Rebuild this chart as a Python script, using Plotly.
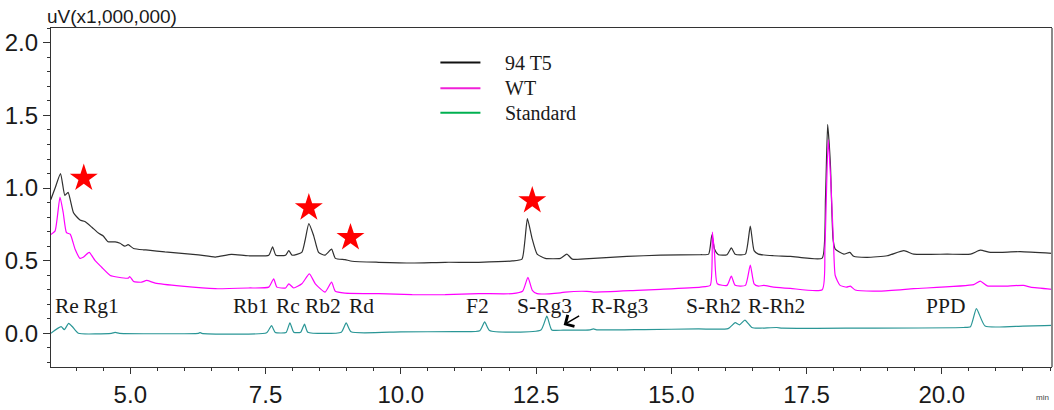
import plotly.graph_objects as go

# ---------------- data (retention time in min, signal in uV x 1,000,000) ----------------
t5_time = [3.53, 3.61, 3.71, 3.79, 3.85, 3.95, 4.07, 4.16, 4.29, 4.41, 4.50, 4.59, 4.72, 4.81, 4.90, 4.96,
           5.06, 5.24, 5.33, 5.64, 6.26, 6.57, 6.87, 7.18, 7.56, 7.63, 7.69, 7.87, 7.93, 7.99, 8.17, 8.23,
           8.30, 8.39, 8.48, 8.60, 8.72, 8.79, 8.97, 9.10, 9.59, 10.21, 10.82, 11.44, 12.06, 12.24, 12.29,
           12.34, 12.43, 12.52, 12.67, 12.95, 13.07, 13.17, 13.56, 14.18, 14.80, 15.54, 15.69, 15.75, 15.80,
           15.87, 16.03, 16.11, 16.18, 16.37, 16.46, 16.53, 16.61, 16.89, 17.20, 17.51, 17.79, 17.85, 17.89,
           17.94, 17.99, 18.03, 18.19, 18.30, 18.37, 18.62, 18.99, 19.30, 19.48, 20.10, 20.53, 20.71, 20.90,
           21.45, 22.04]
t5_signal = [0.92, 1.00, 1.10, 0.95, 0.97, 0.83, 0.78, 0.77, 0.73, 0.69, 0.67, 0.63, 0.63, 0.62, 0.60, 0.61,
             0.584, 0.575, 0.573, 0.56, 0.54, 0.525, 0.543, 0.534, 0.538, 0.596, 0.538, 0.538, 0.569, 0.538,
             0.557, 0.639, 0.755, 0.671, 0.557, 0.538, 0.579, 0.516, 0.507, 0.496, 0.489, 0.484, 0.489, 0.489,
             0.498, 0.511, 0.625, 0.789, 0.648, 0.545, 0.516, 0.516, 0.545, 0.511, 0.516, 0.529, 0.538, 0.541,
             0.545, 0.678, 0.579, 0.541, 0.541, 0.588, 0.545, 0.545, 0.738, 0.569, 0.545, 0.534, 0.530, 0.518,
             0.518, 0.932, 1.438, 1.170, 0.648, 0.579, 0.545, 0.557, 0.530, 0.523, 0.534, 0.569, 0.545, 0.545,
             0.545, 0.572, 0.557, 0.562, 0.550]

wt_time = [3.53, 3.61, 3.70, 3.76, 3.82, 3.89, 3.98, 4.07, 4.13, 4.24, 4.35, 4.47, 4.63, 4.78, 4.96, 4.99,
           5.06, 5.21, 5.30, 5.46, 5.95, 6.57, 7.18, 7.56, 7.65, 7.71, 7.87, 7.93, 8.02, 8.17, 8.31, 8.42,
           8.60, 8.72, 8.79, 8.97, 9.59, 10.21, 10.82, 11.44, 12.06, 12.25, 12.35, 12.43, 12.52, 12.95, 13.04,
           13.44, 13.56, 14.37, 14.80, 15.54, 15.72, 15.76, 15.80, 15.85, 16.03, 16.11, 16.18, 16.37, 16.46,
           16.53, 16.61, 16.71, 16.89, 17.20, 17.79, 17.84, 17.90, 17.95, 18.00, 18.03, 18.12, 18.24, 18.31,
           18.40, 18.86, 19.48, 20.59, 20.71, 20.84, 21.14, 21.51, 21.64, 22.04]
wt_signal = [0.68, 0.705, 0.937, 0.83, 0.693, 0.682, 0.579, 0.516, 0.523, 0.557, 0.50, 0.455, 0.398, 0.386,
             0.38, 0.391, 0.357, 0.352, 0.364, 0.346, 0.325, 0.307, 0.312, 0.318, 0.375, 0.318, 0.312, 0.341,
             0.312, 0.341, 0.409, 0.341, 0.284, 0.352, 0.289, 0.277, 0.273, 0.266, 0.266, 0.273, 0.273, 0.289,
             0.386, 0.296, 0.273, 0.279, 0.284, 0.289, 0.284, 0.296, 0.303, 0.318, 0.33, 0.697, 0.545, 0.341,
             0.33, 0.393, 0.33, 0.33, 0.47, 0.341, 0.325, 0.33, 0.318, 0.309, 0.30, 0.591, 1.334, 1.034, 0.603,
             0.398, 0.33, 0.318, 0.325, 0.298, 0.291, 0.307, 0.335, 0.359, 0.327, 0.325, 0.33, 0.318, 0.303]

std_time = [3.53, 3.72, 3.78, 3.86, 3.93, 4.04, 4.65, 4.72, 4.80, 6.26, 6.29, 6.32, 7.52, 7.61, 7.68,
            7.88, 7.95, 8.02, 8.15, 8.22, 8.28, 8.90, 8.99, 9.08, 10.00, 11.00, 11.46, 11.55, 11.64,
            12.59, 12.70, 12.79, 13.00, 13.50, 13.56, 13.62, 14.50, 15.50, 16.05, 16.18, 16.26, 16.36,
            16.49, 16.60, 16.95, 17.05, 18.50, 20.40, 20.53, 20.64, 20.80, 21.50, 21.90, 22.04]
std_signal = [0.0, 0.046, 0.025, 0.068, 0.045, 0.0, 0.0, 0.006, 0.0, 0.0, 0.005, 0.0, 0.004, 0.053, 0.006,
              0.006, 0.072, 0.008, 0.008, 0.063, 0.008, 0.008, 0.072, 0.01, 0.01, 0.012, 0.018, 0.078, 0.02,
              0.023, 0.118, 0.023, 0.022, 0.024, 0.03, 0.024, 0.026, 0.03, 0.032, 0.073, 0.058, 0.091,
              0.04, 0.035, 0.04, 0.035, 0.036, 0.04, 0.045, 0.17, 0.05, 0.05, 0.053, 0.055]

peak_labels = ["Re", "Rg1", "Rb1", "Rc", "Rb2", "Rd", "F2", "S-Rg3", "R-Rg3", "S-Rh2", "R-Rh2", "PPD"]
peak_label_time = [3.83, 4.45, 7.23, 7.91, 8.57, 9.28, 11.42, 12.65, 14.04, 15.78, 16.95, 20.06]
label_level = 0.185

star_time = [4.14, 8.30, 9.07, 12.43]
star_signal = [1.068, 0.864, 0.659, 0.913]

arrow_time = 13.01
arrow_signal = 0.057

series_names = ["94 T5", "WT", "Standard"]
legend_colors = ["#111111", "#f020d8", "#00b050"]
trace_colors = ["#303030", "#ff00ff", "#2a9696"]

x_ticks = [5.0, 7.5, 10.0, 12.5, 15.0, 17.5, 20.0]
y_ticks = [0.0, 0.5, 1.0, 1.5, 2.0]

# ---------------- figure ----------------
fig = go.Figure()
for name, xs, ys, col in zip(series_names,
                             [t5_time, wt_time, std_time],
                             [t5_signal, wt_signal, std_signal],
                             trace_colors):
    fig.add_trace(go.Scatter(x=xs, y=ys, mode="lines", name=name,
                             line=dict(color=col, width=1.2, shape="spline", smoothing=0.5),
                             showlegend=False))

fig.add_trace(go.Scatter(x=star_time, y=star_signal, mode="markers", showlegend=False,
                         marker=dict(symbol="star", size=21, color="#ff0000",
                                     line=dict(width=0))))

serif = "Liberation Serif, Times New Roman, serif"
sans = "Liberation Sans, Arial, sans-serif"

annotations = []
for lab, tx in zip(peak_labels, peak_label_time):
    annotations.append(dict(x=tx, y=label_level, xref="x", yref="y", text=lab, showarrow=False,
                            font=dict(family=serif, size=21.5, color="#1a1a1a"),
                            xanchor="center", yanchor="middle"))

annotations.append(dict(x=arrow_time, y=arrow_signal, xref="x", yref="y", text="", showarrow=True,
                        ax=17, ay=-10, arrowhead=4, arrowsize=1.7, arrowwidth=1.5,
                        arrowcolor="#000000", standoff=0))

annotations.append(dict(x=-0.006, y=1.035, xref="paper", yref="paper", text="uV(x1,000,000)",
                        showarrow=False, xanchor="left", yanchor="middle",
                        font=dict(family=sans, size=19, color="#1a1a1a")))
annotations.append(dict(x=0.991, y=-0.091, xref="paper", yref="paper", text="min",
                        showarrow=False, xanchor="center", yanchor="middle",
                        font=dict(family=sans, size=8, color="#444444")))

# manual legend
legend_rows = [0.898, 0.822, 0.750]
shapes = []
for name, col, ry in zip(series_names, legend_colors, legend_rows):
    shapes.append(dict(type="line", xref="paper", yref="paper", x0=0.389, x1=0.429, y0=ry, y1=ry,
                       line=dict(color=col, width=2)))
    annotations.append(dict(x=0.452, y=ry, xref="paper", yref="paper", text=name, showarrow=False,
                            xanchor="left", yanchor="middle",
                            font=dict(family=serif, size=20, color="#1a1a1a")))

# right frame edge (grey)
shapes.append(dict(type="line", xref="paper", yref="paper", x0=1, x1=1, y0=0, y1=1,
                   line=dict(color="#8a8a8a", width=2)))

fig.update_layout(
    width=1054, height=410, autosize=False,
    margin=dict(l=51, r=2, t=28, b=39),
    paper_bgcolor="white", plot_bgcolor="white",
    annotations=annotations, shapes=shapes,
    showlegend=False,
)
fig.update_xaxes(range=[3.534, 22.037], tickvals=x_ticks, ticktext=[f"{v:.1f}" for v in x_ticks],
                 ticks="outside", ticklen=6, tickwidth=1.2, tickcolor="#333333",
                 minor=dict(dtick=0.5, tick0=0, ticks="outside", ticklen=3, tickcolor="#333333", tickwidth=1),
                 showline=True, linecolor="#333333", linewidth=1.3, mirror=True,
                 showgrid=False, zeroline=False,
                 tickfont=dict(family=sans, size=24, color="#1a1a1a"))
fig.update_yaxes(range=[-0.232, 2.102], tickvals=y_ticks, ticktext=[f"{v:.1f}" for v in y_ticks],
                 ticks="outside", ticklen=7, tickwidth=1.2, tickcolor="#333333",
                 minor=dict(dtick=0.1, tick0=0, ticks="outside", ticklen=3, tickcolor="#333333", tickwidth=1),
                 showline=True, linecolor="#333333", linewidth=1.3,
                 showgrid=False, zeroline=False,
                 tickfont=dict(family=sans, size=24, color="#1a1a1a"))

fig.write_html("out.html", config={"displayModeBar": False},
               post_script="document.body.style.margin='0';document.body.style.overflow='hidden';")
